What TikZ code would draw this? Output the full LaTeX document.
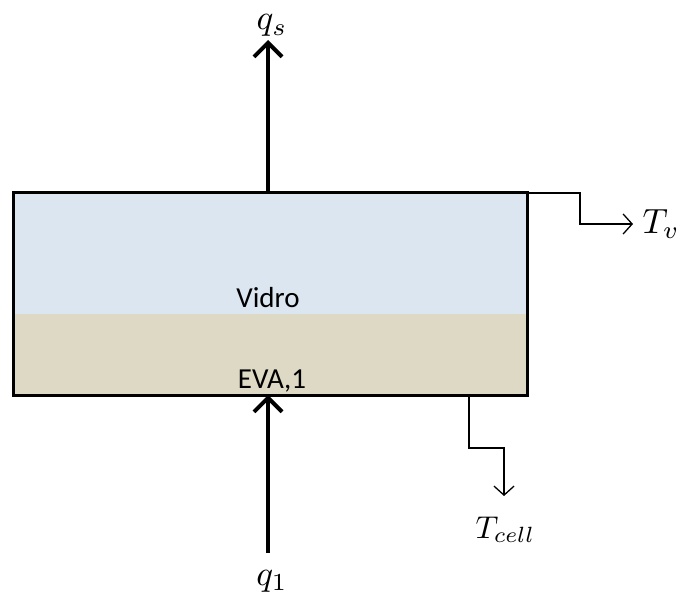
\documentclass[tikz,border=0pt]{standalone}
\usepackage{fontspec}
\newfontfamily\calib{Carlito}
\usetikzlibrary{arrows.meta}
\definecolor{glass}{HTML}{DCE6F0}
\definecolor{eva}{HTML}{DDD9C4}
\tikzset{
  flow/.style={line width=4pt,-{Straight Barb[length=14pt,width=28pt,line width=4pt]}},
  tline/.style={line width=1.3pt,-{Straight Barb[length=9pt,width=20pt,line width=1.3pt]}},
  lbl/.style={inner sep=0pt,anchor=base,font=\calib\fontsize{29}{34}\selectfont},
  mlab/.style={inner sep=0pt,scale=3.5}
}
\begin{document}
\begin{tikzpicture}[x=1pt,y=-1pt]
\useasboundingbox (0,0) rectangle (680,596);
\fill[glass] (13,193) rectangle (527,314);
\fill[eva] (13,314) rectangle (527,395);
\draw[line width=3pt] (13,193) rectangle (527,395);
\coordinate (top) at (268,193);
\coordinate (bot) at (268,395);
\coordinate (tr) at (528,193);
\coordinate (br) at (469,396);
\coordinate (tvend) at (633,224);
\coordinate (tcend) at (504,496);
\node[lbl] (vidro) at (268,307) {Vidro};
\node[lbl] (eva) at (272,388) {EVA,1};
\node[mlab,anchor=base] (qs) at (272,30) {$q_s$};
\node[mlab,anchor=base] (q1) at (272,585) {$q_1$};
\node[mlab,anchor=base west] (tv) at (642,233) {$T_v$};
\node[mlab,scale=0.9,anchor=base west] (tcell) at (475,538) {$T_{cell}$};
\draw[flow] (top) -- (268,40);
\draw[flow] (268,553) -- (bot);
\draw[tline] (tr) -- (580,193) -- (580,224) -- (tvend);
\draw[tline] (br) -- (469,448) -- (504,448) -- (tcend);
\end{tikzpicture}
\end{document}
